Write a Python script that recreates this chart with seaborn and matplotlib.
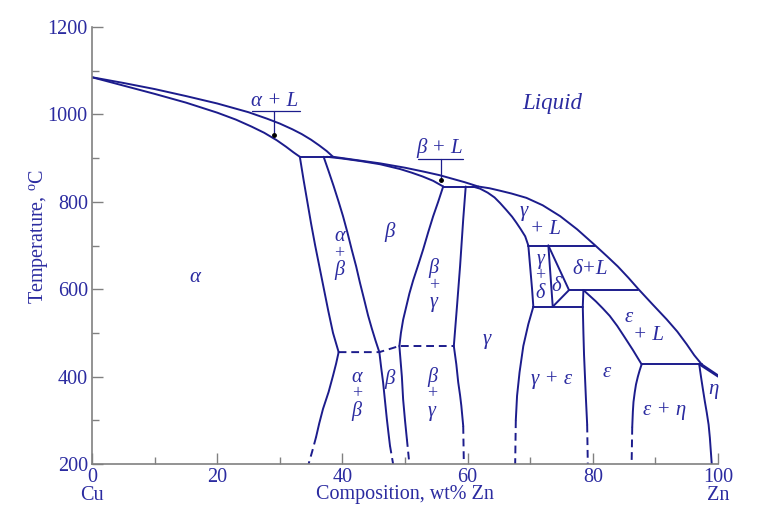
import matplotlib
matplotlib.use("Agg")
import matplotlib.pyplot as plt
import seaborn as sns

# Cu-Zn phase boundaries, wt% Zn vs temperature (C)
liq_a_x = [0, 5, 10, 15, 20, 25, 28, 30, 32, 33.5, 35, 36.3, 37.5, 38.5]
liq_a_y = [1085, 1072, 1058, 1042, 1025, 1005, 990, 979, 966, 955, 942, 929, 916, 903]
sol_a_x = [0, 5, 10, 15, 20, 23, 25.5, 27.5, 29.5, 31, 32.2, 33.2]
sol_a_y = [1085, 1066, 1047, 1027, 1004, 988, 972, 958, 941, 926, 913, 903]
per903_x = [33.2, 38.5]
per903_y = [903, 903]

liq_b_x = [38.5, 42, 46, 50, 53, 55.5, 57.5, 59.5, 61.7]
liq_b_y = [903, 896, 888, 878, 869, 861, 853, 845, 835]
sol_b_x = [37.5, 40, 43, 46, 49.2, 51, 52.8, 54.5, 56.1]
sol_b_y = [903, 899, 893, 886, 875, 867, 858, 848, 835]
per835_x = [56.1, 61.7]
per835_y = [835, 835]

a_solv_x = [33.2, 33.8, 34.4, 35.0, 35.65, 36.35, 37.05, 37.75, 38.5, 39.4]
a_solv_y = [903, 850, 800, 750, 700, 650, 600, 550, 500, 456]
b_left_x = [37, 37.8, 38.6, 39.4, 40.1, 40.8, 41.5, 42.2, 42.8, 43.5, 44.1, 44.7, 45.3, 45.9]
b_left_y = [903, 870, 836, 800, 767, 730, 690, 652, 615, 575, 540, 510, 482, 456]
b_right_x = [56.1, 55.3, 54.5, 53.7, 52.9, 52.1, 51.3, 50.7, 50.2, 49.7, 49.35, 49.1]
b_right_y = [835, 800, 767, 730, 691, 655, 620, 590, 560, 530, 500, 470]
g_left_x = [59.7, 59.3, 58.8, 58.3, 57.8]
g_left_y = [835, 760, 653, 560, 470]

# below the ordering lines
a_low_x = [39.4, 39.0, 38.5, 37.8, 36.9, 36.3, 35.8]
a_low_y = [456, 430, 402, 365, 326, 293, 262]
a_low_dx = [35.8, 35.2, 34.6]
a_low_dy = [262, 230, 200]
bp_left_x = [45.9, 46.2, 46.5, 46.8, 47.1, 47.35, 47.6]
bp_left_y = [456, 420, 387, 345, 303, 272, 242]
bp_left_dx = [47.6, 48.1]
bp_left_dy = [242, 200]
bp_right_x = [49.1, 49.3, 49.5, 49.7, 50.0, 50.3]
bp_right_y = [470, 435, 400, 348, 300, 257]
bp_right_dx = [50.3, 50.7]
bp_right_dy = [257, 200]
g_low_x = [57.8, 58.2, 58.5, 58.8, 59.0, 59.3]
g_low_y = [470, 428, 387, 357, 333, 287]
g_low_dx = [59.3, 59.4]
g_low_dy = [287, 200]

order_x = [39.4, 45.9, 49.1, 57.8]
order_y = [456, 456, 470, 470]

# gamma / delta / epsilon / eta side
liq_r_x = [61.7, 63.5, 65, 67, 69.4, 72, 74.8, 77.5, 80.4, 82.3, 84, 85.7, 87.3,
           89.5, 91.8, 93.5, 95, 96.2, 97.4, 100]
liq_r_y = [835, 831, 826, 819, 809, 792, 767, 737, 700, 675, 652, 626, 600,
           566, 531, 503, 474, 449, 428, 403]
sol_g_x = [60.8, 62, 63.2, 64.3, 65.2, 66.2, 67.1, 67.8, 68.5, 69.2, 69.7]
sol_g_y = [835, 830, 821, 810, 797, 781, 766, 752, 737, 721, 700]
per700_x = [69.7, 80.4]
per700_y = [700, 700]
g_gd_x = [69.7, 70.0, 70.3, 70.5]
g_gd_y = [700, 650, 600, 560]
d_left_x = [72.9, 73.6]
d_left_y = [700, 560]
d_right_x = [72.9, 76.2, 73.6]
d_right_y = [700, 598, 560]
per598_x = [76.2, 87.3]
per598_y = [598, 598]
eut560_x = [70.5, 78.4]
eut560_y = [560, 560]
e_left_x = [78.5, 78.4, 78.5, 78.6, 78.75, 78.9, 79.1]
e_left_y = [598, 560, 500, 450, 400, 350, 290]
e_left_dx = [79.1, 79.2]
e_left_dy = [290, 200]
g_ge_x = [70.5, 70.1, 69.7, 69.3, 68.9, 68.6, 68.3, 68.1, 67.9, 67.8, 67.7]
g_ge_y = [560, 540, 520, 495, 470, 440, 410, 383, 356, 328, 300]
g_ge_dx = [67.7, 67.6]
g_ge_dy = [300, 200]
sol_e_x = [78.5, 79.5, 80.5, 81.6, 82.7, 83.9, 85, 86.4, 87.8]
sol_e_y = [598, 585, 572, 556, 539, 516, 492, 461, 428]
per428_x = [87.8, 97.4]
per428_y = [428, 428]
e_en_x = [87.8, 87.5, 87.2, 86.9, 86.7, 86.5, 86.4, 86.3]
e_en_y = [428, 415, 400, 382, 364, 342, 320, 285]
e_en_dx = [86.3, 86.2]
e_en_dy = [285, 200]
sol_n_x = [97.0, 100]
sol_n_y = [428, 400]
n_solv_x = [97.0, 97.3, 97.6, 97.9, 98.2, 98.5, 98.7, 99.0]
n_solv_y = [428, 398, 370, 343, 318, 290, 260, 200]

solid = [
    (liq_a_x, liq_a_y), (sol_a_x, sol_a_y), (per903_x, per903_y),
    (liq_b_x, liq_b_y), (sol_b_x, sol_b_y), (per835_x, per835_y),
    (a_solv_x, a_solv_y), (b_left_x, b_left_y), (b_right_x, b_right_y),
    (g_left_x, g_left_y), (a_low_x, a_low_y), (bp_left_x, bp_left_y),
    (bp_right_x, bp_right_y), (g_low_x, g_low_y),
    (liq_r_x, liq_r_y), (sol_g_x, sol_g_y), (per700_x, per700_y),
    (g_gd_x, g_gd_y), (d_left_x, d_left_y), (d_right_x, d_right_y),
    (per598_x, per598_y), (eut560_x, eut560_y), (e_left_x, e_left_y),
    (g_ge_x, g_ge_y), (sol_e_x, sol_e_y), (per428_x, per428_y),
    (e_en_x, e_en_y), (sol_n_x, sol_n_y), (n_solv_x, n_solv_y),
]
dashed = [
    (a_low_dx, a_low_dy), (bp_left_dx, bp_left_dy), (bp_right_dx, bp_right_dy),
    (g_low_dx, g_low_dy), (order_x, order_y), (e_left_dx, e_left_dy),
    (g_ge_dx, g_ge_dy), (e_en_dx, e_en_dy),
]

# phase labels: (text, x, y)
labels = [
    ("α", 16.5, 627), ("β", 47.6, 732), ("γ", 63.1, 485),
    ("β", 47.6, 394), ("γ", 68.9, 778), ("+ L", 72.4, 737),
    ("δ", 74.2, 607), ("δ+L", 79.6, 645), ("ε", 85.7, 535),
    ("+ L", 88.9, 493), ("γ + ε", 73.4, 394), ("ε", 82.2, 409),
    ("ε + η", 91.5, 322), ("η", 99.3, 371),
]
stacks = [
    ("α", "β", 39.5, 682), ("β", "γ", 54.6, 609), ("α", "β", 42.3, 360),
    ("β", "γ", 54.3, 360), ("γ", "δ", 71.6, 630),
]
# two-phase pointers: text, text pos, underline x-range, underline y, dot
pointers = [
    ("α + L", 29.2, 1029, [25.5, 33.3], 1007, 29.1, 952),
    ("β + L", 55.6, 923, [52.1, 59.3], 899, 55.75, 851),
]

LINE = "#1c1c8c"
TXT = "#2b2ba0"
GREY = "#808080"

sns.set_theme(style="white")
plt.rcParams["font.family"] = ["Liberation Serif", "DejaVu Serif"]
plt.rcParams["mathtext.fontset"] = "custom"
plt.rcParams["mathtext.rm"] = "Liberation Serif"
plt.rcParams["mathtext.it"] = "Liberation Serif:italic"

fig = plt.figure(figsize=(7.67, 5.25), dpi=100)
ax = fig.add_axes([92 / 767, 1 - 464 / 525, 626 / 767, 437 / 525])

for xs, ys in solid:
    sns.lineplot(x=xs, y=ys, ax=ax, color=LINE, lw=1.4, sort=False, estimator=None)
for xs, ys in dashed:
    sns.lineplot(x=xs, y=ys, ax=ax, color=LINE, lw=1.4, sort=False, estimator=None,
                 linestyle=(0, (4, 2.5)))

for t, x, y in labels:
    ax.text(x, y, t, color=TXT, fontsize=15, style="italic", ha="center", va="center")
for top, bot, x, y in stacks:
    ax.text(x, y + 39, top, color=TXT, fontsize=14.5, style="italic", ha="center", va="center")
    ax.text(x, y, "+", color=TXT, fontsize=13, ha="center", va="center")
    ax.text(x, y - 39, bot, color=TXT, fontsize=14.5, style="italic", ha="center", va="center")
for t, tx, ty, ux, uy, dx, dy in pointers:
    ax.text(tx, ty, t, color=TXT, fontsize=15, style="italic", ha="center", va="center")
    ax.plot(ux, [uy, uy], color=LINE, lw=0.9)
    ax.plot([dx, dx], [uy, dy], color=LINE, lw=0.9)
    ax.plot([dx], [dy], "o", color="black", ms=2.5)

ax.text(73.6, 1024, "Liquid", color=TXT, fontsize=16.5, style="italic",
        ha="center", va="center")

ax.set_xlim(0, 100)
ax.set_ylim(200, 1200)
ax.set_xticks(range(0, 101, 20))
ax.set_xticks(range(10, 100, 20), minor=True)
ax.set_yticks(range(200, 1201, 200))
ax.set_yticks(range(300, 1200, 200), minor=True)
ax.tick_params(which="both", direction="in", color=GREY, width=1,
               labelcolor=TXT, labelsize=14.5, pad=3, bottom=True, left=True)
ax.tick_params(which="major", length=8)
ax.tick_params(which="minor", length=5)
for s in ["top", "right"]:
    ax.spines[s].set_visible(False)
for s in ["left", "bottom"]:
    ax.spines[s].set_color(GREY)
    ax.spines[s].set_linewidth(1.2)
ax.set_xlabel("")
ax.set_ylabel("")

fig.text(38 / 767, 1 - 237 / 525, "Temperature, $^{\\mathrm{o}}$C", rotation=90,
         color=TXT, fontsize=14.5, ha="center", va="center")
fig.text(405 / 767, 1 - 495 / 525, "Composition, wt% Zn", color=TXT,
         fontsize=14.5, ha="center", va="center")
ax.text(0, -0.071, "Cu", transform=ax.get_xaxis_transform(), color=TXT,
        fontsize=14.5, ha="center", va="center")
ax.text(100, -0.071, "Zn", transform=ax.get_xaxis_transform(), color=TXT,
        fontsize=14.5, ha="center", va="center")

fig.savefig("out.png", dpi=100, facecolor="white")
